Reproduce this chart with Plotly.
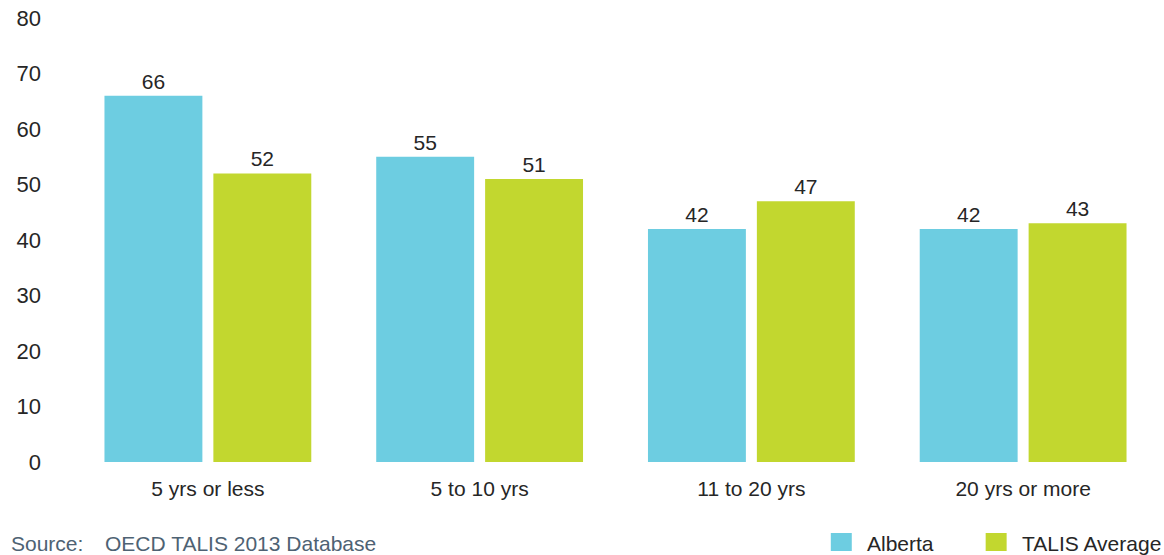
import plotly.graph_objects as go

# Years of teaching experience, share of teachers (%)
categories = ["5 yrs or less", "5 to 10 yrs", "11 to 20 yrs", "20 yrs or more"]
alberta = [66, 55, 42, 42]
talis_average = [52, 51, 47, 43]
series_names = ["Alberta", "TALIS Average"]
y_ticks = [0, 10, 20, 30, 40, 50, 60, 70, 80]

colors = ["#6dcde1", "#c2d72f"]
font_family = "Liberation Sans, Arial, Helvetica, sans-serif"
text_color = "#262626"

W, H = 1164, 555
margin = dict(l=71.5, r=4.5, t=18, b=93)

fig = go.Figure()
for name, vals, col in zip(series_names, [alberta, talis_average], colors):
    fig.add_trace(go.Bar(
        x=categories, y=vals, name=name,
        marker=dict(color=col, line=dict(width=0)),
        text=[str(v) for v in vals], textposition="outside",
        textfont=dict(size=21, color=text_color, family=font_family),
        cliponaxis=False, showlegend=False,
    ))

fig.update_layout(
    width=W, height=H, margin=margin,
    paper_bgcolor="white", plot_bgcolor="white",
    barmode="group", bargap=0.1985, bargroupgap=0.101,
    font=dict(family=font_family, size=21, color=text_color),
    xaxis=dict(showgrid=False, zeroline=False, showline=False, ticks="",
               tickfont=dict(size=21, color=text_color), ticklabelstandoff=12),
    yaxis=dict(range=[0, 80], tickvals=y_ticks, showgrid=False, zeroline=False,
               showline=False, ticks="", tickfont=dict(size=22, color=text_color),
               ticklabelstandoff=30),
)

# Source line and legend along the bottom edge
plot_w = W - margin["l"] - margin["r"]
plot_h = H - margin["t"] - margin["b"]


def px_to_paper(px):
    return (px - margin["l"]) / plot_w


def py_to_paper(py):
    return (H - margin["b"] - py) / plot_h


row_y = py_to_paper(543)
src_color = "#4e6273"
fig.add_annotation(text="Source:", x=px_to_paper(8), xanchor="left", xref="paper",
                   y=row_y, yref="paper", yanchor="middle", showarrow=False,
                   font=dict(size=21, color=src_color))
fig.add_annotation(text="OECD TALIS 2013 Database", x=px_to_paper(103), xanchor="left",
                   xref="paper", y=row_y, yref="paper", yanchor="middle", showarrow=False,
                   font=dict(size=21, color=src_color))

legend_items = [(831, 865), (986, 1020)]
for (sx, tx), name, col in zip(legend_items, series_names, colors):
    fig.add_shape(type="rect", xref="paper", yref="paper",
                  x0=px_to_paper(sx), x1=px_to_paper(sx + 21),
                  y0=py_to_paper(551), y1=py_to_paper(533),
                  fillcolor=col, line=dict(width=0))
    fig.add_annotation(text=name, x=px_to_paper(tx), xanchor="left", xref="paper",
                       y=row_y, yref="paper", yanchor="middle", showarrow=False,
                       font=dict(size=21, color=text_color))

fig.write_html("out.html")
